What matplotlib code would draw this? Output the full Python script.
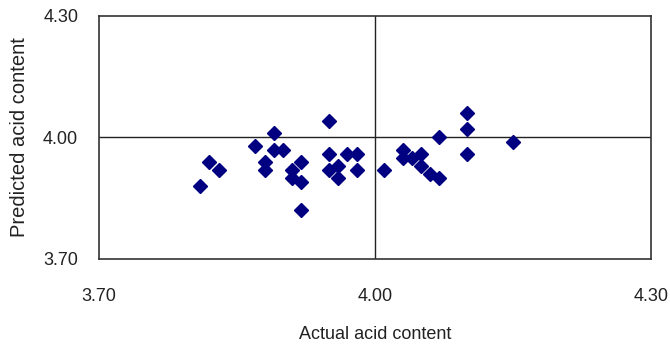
import matplotlib
matplotlib.use('Agg')
import matplotlib.pyplot as plt

# actual vs predicted acid content
actual = [3.81, 3.82, 3.83, 3.87, 3.88, 3.88, 3.89, 3.89, 3.90, 3.91, 3.91, 3.92,
          3.92, 3.92, 3.95, 3.95, 3.95, 3.96, 3.96, 3.97, 3.98, 3.98, 4.01, 4.03,
          4.03, 4.04, 4.05, 4.05, 4.06, 4.07, 4.07, 4.10, 4.10, 4.10, 4.15]
predicted = [3.88, 3.94, 3.92, 3.98, 3.94, 3.92, 4.01, 3.97, 3.97, 3.92, 3.90, 3.94,
             3.89, 3.82, 4.04, 3.96, 3.92, 3.93, 3.90, 3.96, 3.96, 3.92, 3.92, 3.97,
             3.95, 3.95, 3.96, 3.93, 3.91, 4.00, 3.90, 4.06, 4.02, 3.96, 3.99]
ticks = [3.70, 4.00, 4.30]
tick_labels = ['3.70', '4.00', '4.30']

plt.rcParams['font.family'] = ['Liberation Sans', 'DejaVu Sans']

fig = plt.figure(figsize=(6.70, 3.44), dpi=100)
ax = fig.add_axes([0.1478, 0.2471, 0.8238, 0.7064])

ax.plot(actual, predicted, linestyle='none', marker='D', markersize=7.2,
        color='#000080', markeredgecolor='#000080', zorder=3)

# crosshair through the middle
ax.axhline(4.00, color='#222222', lw=1.0, zorder=1)
ax.axvline(4.00, color='#222222', lw=1.0, zorder=1)

ax.set_xlim(3.70, 4.30)
ax.set_ylim(3.70, 4.30)
ax.set_xticks(ticks)
ax.set_xticklabels(tick_labels)
ax.set_yticks(ticks)
ax.set_yticklabels(tick_labels)
ax.tick_params(length=0, labelsize=13, colors='#222222')
ax.tick_params(axis='x', pad=21)
ax.tick_params(axis='y', pad=15)
for s in ax.spines.values():
    s.set_color('#333333')
    s.set_linewidth(1.2)

ax.set_xlabel('Actual acid content', fontsize=13, color='#222222', labelpad=15)
ax.set_ylabel('Predicted acid content', fontsize=14.5, color='#222222', labelpad=10)

fig.savefig('out.png', dpi=100)
